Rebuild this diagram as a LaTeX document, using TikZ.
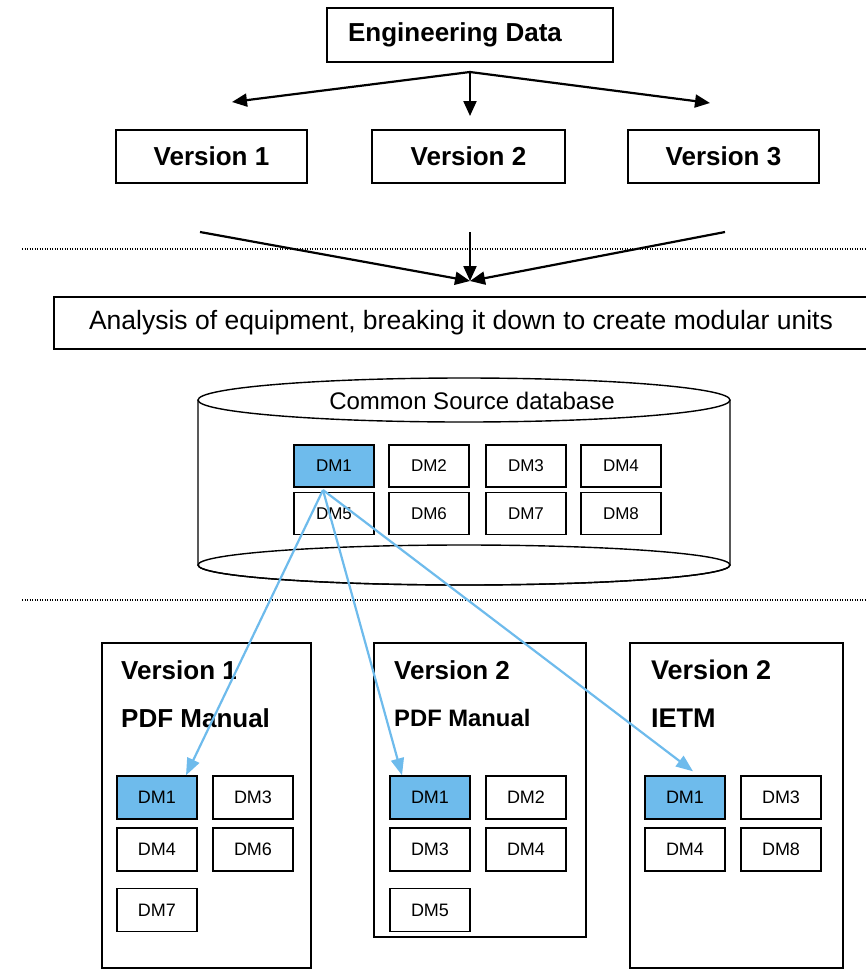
\documentclass[tikz,border=0pt]{standalone}
\usepackage{fontspec}
\setmainfont{Liberation Sans}
\usetikzlibrary{arrows.meta,calc}
\definecolor{dmblue}{RGB}{110,187,236}
\tikzset{
  x=1pt, y=1pt,
  frame/.style={draw, line width=1.4pt, inner sep=0pt},
  bigbox/.style={frame, fill=white, font=\fontsize{26}{30}\selectfont\bfseries},
  dmbox/.style={frame, fill=white, minimum width=80pt, minimum height=42pt, font=\fontsize{17}{20}\selectfont},
  dmsel/.style={dmbox, fill=dmblue},
  panel/.style={draw, line width=1.4pt, inner sep=0pt},
  ptitle/.style={anchor=west, inner sep=0pt, font=\fontsize{26}{30}\selectfont\bfseries},
  flow/.style={line width=2.2pt, -{Triangle[length=15pt,width=13pt]}},
  link/.style={draw=dmblue, line width=2.2pt, -{Triangle[length=17pt,width=13pt]}},
  sepline/.style={line width=1.1pt, dash pattern=on 1.2pt off 1.3pt},
}
\begin{document}
\begin{tikzpicture}
\useasboundingbox (0,0) rectangle (866,-970);

% top: engineering data split into versions
\node[bigbox, minimum width=286pt, minimum height=54pt] (eng) at (470,-35) {Engineering Data\kern30pt};
\node[bigbox, minimum width=191pt, minimum height=53pt] (v1) at (211.5,-156.5) {Version 1};
\node[bigbox, minimum width=193pt, minimum height=53pt] (v2) at (468.5,-156.5) {Version 2};
\node[bigbox, minimum width=191pt, minimum height=53pt] (v3) at (723.5,-156.5) {Version 3};

\coordinate (split) at (470,-72);
\coordinate (toL) at (232,-102);
\coordinate (toM) at (470,-116);
\coordinate (toR) at (710,-103);
\draw[flow] (split) -- (toL);
\draw[flow] (split) -- (toM);
\draw[flow] (split) -- (toR);

% separator
\coordinate (s1a) at (22,-249);
\coordinate (s1b) at (866,-249);
\draw[sepline] (s1a) -- (s1b);

% versions converge into the analysis step
\coordinate (fromL) at (200,-232);
\coordinate (fromM) at (470,-232);
\coordinate (fromR) at (725,-232);
\coordinate (merge) at (470,-281);
\draw[flow] (fromL) -- (merge);
\draw[flow] (fromM) -- (merge);
\draw[flow] (fromR) -- (merge);

\draw[line width=1.4pt] (54,-297) rectangle (868,-349);
\node[inner sep=0pt, font=\fontsize{26.5}{30}\selectfont] (ana) at (461,-323) {Analysis of equipment, breaking it down to create modular units};

% common source database cylinder
\draw[line width=1.4pt, fill=white] (198,-400) -- (198,-565) arc[start angle=180, end angle=360, x radius=266, y radius=20] -- (730,-400);
\draw[line width=1.4pt] (464,-565) ellipse[x radius=266, y radius=20];
\draw[line width=1.4pt, fill=white] (464,-400) ellipse[x radius=266, y radius=22];
\node[inner sep=0pt, font=\fontsize{24}{28}\selectfont] (csdb) at (472,-401) {Common Source database};

\node[dmsel] (c1) at (334,-466) {DM1};
\node[dmbox] (c2) at (429,-466) {DM2};
\node[dmbox] (c3) at (526,-466) {DM3};
\node[dmbox] (c4) at (621,-466) {DM4};
\node[dmbox] (c5) at (334,-513.5) {DM5};
\node[dmbox] (c6) at (429,-513.5) {DM6};
\node[dmbox] (c7) at (526,-513.5) {DM7};
\node[dmbox] (c8) at (621,-513.5) {DM8};

% separator
\coordinate (s2a) at (22,-600);
\coordinate (s2b) at (866,-600);
\draw[sepline] (s2a) -- (s2b);

% publications
\node[panel, minimum width=209pt, minimum height=325pt] (p1) at (206.5,-805.5) {};
\node[panel, minimum width=212pt, minimum height=294pt] (p2) at (480,-790) {};
\node[panel, minimum width=213pt, minimum height=325pt] (p3) at (736.5,-805.5) {};

\node[ptitle] (p1a) at (121,-670) {Version 1};
\node[ptitle] (p1b) at (121,-718) {PDF Manual};
\node[ptitle] (p2a) at (394,-670) {Version 2};
\node[ptitle, font=\fontsize{23.8}{28}\selectfont\bfseries] (p2b) at (394,-718) {PDF Manual};
\node[ptitle, font=\fontsize{27}{30}\selectfont\bfseries] (p3a) at (651,-670) {Version 2};
\node[ptitle, font=\fontsize{27}{30}\selectfont\bfseries] (p3b) at (651,-718) {IETM};

\tikzset{dmbox/.append style={minimum height=43pt, font=\fontsize{18}{20}\selectfont}}
\node[dmsel] (a1) at (157,-797.5) {DM1};
\node[dmbox] (a3) at (253,-797.5) {DM3};
\node[dmbox] (a4) at (157,-849.5) {DM4};
\node[dmbox] (a6) at (253,-849.5) {DM6};
\node[dmbox] (a7) at (157,-910) {DM7};

\node[dmsel] (b1) at (430,-797.5) {DM1};
\node[dmbox] (b2) at (526,-797.5) {DM2};
\node[dmbox] (b3) at (430,-849.5) {DM3};
\node[dmbox] (b4) at (526,-849.5) {DM4};
\node[dmbox] (b5) at (430,-910) {DM5};

\node[dmsel] (e1) at (685,-797.5) {DM1};
\node[dmbox] (e3) at (781,-797.5) {DM3};
\node[dmbox] (e4) at (685,-849.5) {DM4};
\node[dmbox] (e8) at (781,-849.5) {DM8};

% DM1 reused in every publication
\coordinate (src) at (323,-490);
\coordinate (tA) at ($(a1.north)+(29,0)$);
\coordinate (tB) at ($(b1.north)+(-28,0)$);
\coordinate (tE) at ($(e1.north)+(8,4)$);
\draw[link] (src) -- (tA);
\draw[link] (src) -- (tB);
\draw[link] (src) -- (tE);
\end{tikzpicture}
\end{document}
